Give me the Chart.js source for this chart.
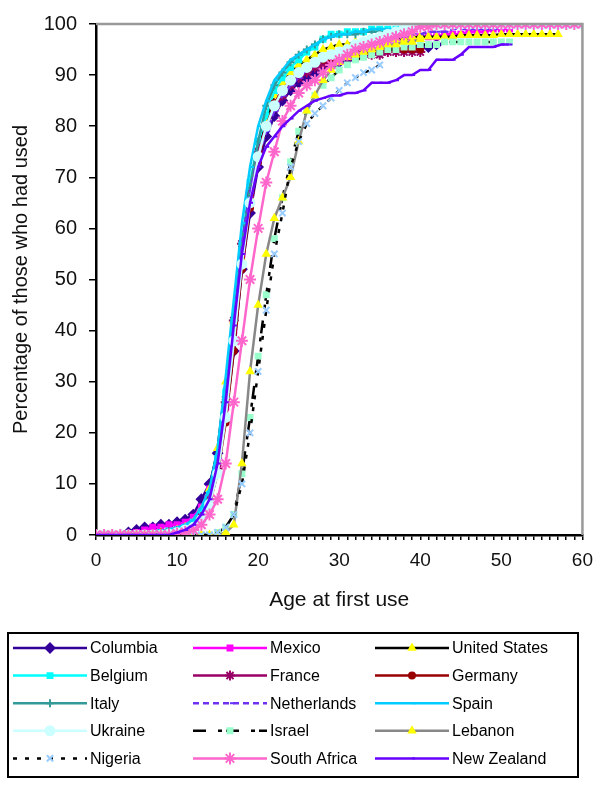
<!DOCTYPE html>
<html>
<head>
<meta charset="utf-8">
<script src="https://cdn.jsdelivr.net/npm/chart.js@4.4.0/dist/chart.umd.min.js"></script>
<style>
  html, body { margin: 0; padding: 0; background: #fff; }
  #wrap { width: 602px; height: 786px; }
</style>
</head>
<body>
<div id="wrap"><canvas id="chart" width="602" height="786"></canvas></div>
<script>
// age at first use (years)
const ages = [0,1,2,3,4,5,6,7,8,9,10,11,12,13,14,15,16,17,18,19,20,21,22,23,24,25,26,27,28,29,30,
  31,32,33,34,35,36,37,38,39,40,41,42,43,44,45,46,47,48,49,50,51,52,53,54,55,56,57,58,59,60];

// cumulative % of users, one value per age starting at 0
const columbia = [0,0,0,0,0.5,1,1.5,1.5,2,2,2.5,3,4,7,10,16,23,36,52,63,72,78,82,85,87,88.5,89.5,90.5,91.5,92,92.5,93,93.5,94,94.5,94.5,95,95,95,95.5,95.5,95.5,96];
const mexico = [0,0,0,0,0,0.5,1,1.5,1.5,2,2,2.5,3.5,5.5,9,14,25,40,55,66,74,80,84,87,89,90.5,91.5,92.5,93.5,94,94.5,95,95.5,96,96,96.5,96.5,97,97,97,97.5,97.5,97.5,98,98,98,98.5,98.5,98.5,99,99,99];
const unitedStates = [0,0,0,0,0,0,0,0,0.5,0.5,1,1.5,2.5,5,9,17,30,42,54,66,75,81,86,88.5,90.5,92,93,94,95,95.5,96,96,96.5,96.5,96.5,97,97,97,97,97.5,97.5,97.5,97.5,97.5,97.5,97.8,97.8,97.8,97.8,97.8,98,98,98,98,98,98,98,98];
const belgium = [0,0,0,0,0,0,0,0.2,0.5,0.8,1,1.5,2.5,4.5,8,15,28,42,57,69,77,82,87,89.5,91.5,93,94.5,95.5,97,98,98,98.5,98.5,98.5,99,99,99,99,99];
const france = [0,0,0,0,0,0,0,0,0.3,0.5,0.8,1,1.5,3.5,7,13,26,42,57,67,75,80,83.5,86,88,89.5,90.5,91.5,92,92.5,93,93.5,93.5,94,94,94,94.5,94.5,94.5,94.5,94.5];
const germany = [0,0,0,0,0,0,0,0,0,0.3,0.5,1,1.5,3,6,12,22,36,52,64,73,80,84.5,87,89,90.5,91.5,92.5,93,93.5,94,94,94.5,94.5,94.5,95,95,95,95,95,95];
const italy = [0,0,0,0,0,0,0,0,0.2,0.4,0.7,1,1.5,3,7,14,27,42,57,68,77,84,88,90.5,92.5,94,95,96,97,97.5,98,98,98,98.5,98.5,98.5];
const netherlands = [0,0,0,0.2,0.3,0.4,0.5,0.6,0.7,0.8,1,1.2,1.5,3,7,15,28,43,57,67,74,79,83,86,88,89.5,91,92,93,94,94.5,95,95.5,96,96.5,97,97,97.5,97.5,98,98,98.5,98.5,98.5,99,99,99,99,99,99,99.5,99.5,99.5,99.5,99.5,99.5,99.5,99.5,99.5,99.5,99.5];
const spain = [0,0,0,0,0,0.2,0.3,0.5,0.7,1,1.5,2,3,5.5,9,17,31,46,61,72,80,85,89,91,93,94,95,96,97,97.5,98,98,98.5,98.5,99,99,99];
const ukraine = [0,0,0,0,0,0,0,0,0,0.2,0.5,1,1.5,3,6,12,23,38,53,65,74,80,84,87,89,90.5,91.5,92.5,93.5,94,94.5,95,96,96.5,97,97.5,98,98.5,99,99.5,100,100,100,100,100,100,100,100,100,100,100,100,100,100,100,100,100,100,100,100,100];
const israel = [0,0,0,0,0,0,0,0,0,0,0,0,0,0,0,0.5,1.5,4,12,23,35,47,58,66,73,79,83,86,88,89.5,91,92,93,93.5,94,94.5,95,95,95.5,95.5,96,96,96,96.5,96.5,96.5,96.5,96.5,96.5,96.5,96.5,96.5];
const lebanon = [0,0,0,0,0,0,0,0,0,0,0,0,0,0,0,0,0.5,2,14,32,45,55,62,66,70,77,83,86,89,91,92.5,93.5,94,94.5,95,95.5,96,96,96.5,96.5,97];
const nigeria = [0,0,0,0,0,0,0,0,0,0,0,0,0,0,0,0.5,1.5,4,10,20,32,44,55,63,72,77,80.5,82.5,84,85.5,87,88.5,89.5,90.5,91,92];
const southAfrica = [0,0,0,0,0,0,0,0,0,0,0.3,0.6,1,2,4,7,14,26,38,50,60,69,75,81,84,86.5,88,89,90.5,92,93,94,95,95.5,96,96.5,97,97.5,98,98.5,99.5,99.5,100,100,100,100,100,100,100,100,100,100,100,100,100,100,100,100,100,100,100];
const newZealand = [0,0,0,0,0,0,0,0,0,0,0.5,1,2,4,7,14,26,41,55,65,72,76,78,80,81.5,83,84,85,85.5,86,86,86.5,86.5,87,88.5,88.5,88.5,89,90,90,91,91,93,93,93,94,95.5,95.5,95.5,95.5,96,96];

const seriesNames = ["Columbia","Mexico","United States","Belgium","France","Germany","Italy","Netherlands","Spain","Ukraine","Israel","Lebanon","Nigeria","South Africa","New Zealand"];
const seriesValues = [columbia, mexico, unitedStates, belgium, france, germany, italy, netherlands, spain, ukraine, israel, lebanon, nigeria, southAfrica, newZealand];

const styles = [
  { line: "#330099", point: "#330099", shape: "rectRot", r: 4.5 },
  { line: "#ff00ff", point: "#ff00ff", shape: "rect", r: 3.5 },
  { line: "#000000", point: "#ffff00", shape: "triangle", r: 3.5 },
  { line: "#00ffff", point: "#00ffff", shape: "rect", r: 3.5 },
  { line: "#990066", point: "#990066", shape: "star", r: 5 },
  { line: "#990000", point: "#990000", shape: "circle", r: 3 },
  { line: "#339999", point: "#339999", shape: "cross", r: 4 },
  { line: "#7030f0", point: "#6633ff", shape: "dash", r: 4, dash: [6, 4] },
  { line: "#00ccff", point: "#00ccff", shape: "dash", r: 4 },
  { line: "#ccffff", point: "#ccffff", shape: "circle", r: 4.5 },
  { line: "#000000", point: "#99ffcc", shape: "rect", r: 3.5, dash: [13, 12, 4, 4] },
  { line: "#888888", point: "#ffff00", shape: "triangle", r: 3.5 },
  { line: "#000000", point: "#99ccff", shape: "crossRot", r: 4.5, dash: [4, 8] },
  { line: "#ff66cc", point: "#ff66cc", shape: "star", r: 6 },
  { line: "#6600ff", point: "#6600ff", shape: "dash", r: 3 }
];

const datasets = seriesNames.map((name, i) => {
  const st = styles[i];
  return {
    label: name,
    data: seriesValues[i].map((v, k) => ({ x: ages[k], y: v })),
    borderColor: st.line,
    backgroundColor: st.point,
    pointBackgroundColor: st.point,
    pointBorderColor: st.point,
    pointStyle: st.shape,
    pointRadius: st.r,
    pointBorderWidth: 2,
    borderWidth: 2.5,
    borderDash: st.dash || [],
    tension: 0,
    order: seriesNames.length - i
  };
});

// grey frame on top and right of the plot
const frame = {
  id: "frame",
  afterDatasetsDraw(chart) {
    const { ctx, chartArea: a } = chart;
    ctx.save();
    ctx.strokeStyle = "#999999";
    ctx.lineWidth = 2.5;
    ctx.beginPath();
    ctx.moveTo(a.left, a.top);
    ctx.lineTo(a.right, a.top);
    ctx.lineTo(a.right, a.bottom);
    ctx.stroke();
    ctx.restore();
  }
};

// boxed legend, 3 columns x 5 rows
const boxLegend = {
  id: "boxLegend",
  afterDraw(chart) {
    const ctx = chart.ctx;
    const colX = [13, 193, 375];
    const rowY0 = 648, rowH = 27.6;
    ctx.save();
    ctx.strokeStyle = "#000";
    ctx.lineWidth = 2;
    ctx.strokeRect(8, 633, 570, 144);
    ctx.font = "16px 'Liberation Sans', Arial, sans-serif";
    ctx.textBaseline = "middle";
    ctx.fillStyle = "#000";
    chart.data.datasets.forEach((ds, i) => {
      const x = colX[i % 3];
      const y = rowY0 + Math.floor(i / 3) * rowH;
      ctx.save();
      ctx.strokeStyle = ds.borderColor;
      ctx.lineWidth = 2.5;
      ctx.setLineDash(ds.borderDash || []);
      ctx.beginPath();
      ctx.moveTo(x, y);
      ctx.lineTo(x + 74, y);
      ctx.stroke();
      ctx.setLineDash([]);
      ctx.fillStyle = ds.pointBackgroundColor;
      ctx.strokeStyle = ds.pointBorderColor;
      ctx.lineWidth = 2;
      Chart.helpers.drawPoint(ctx, { pointStyle: ds.pointStyle, radius: ds.pointRadius, rotation: 0, borderWidth: 2 }, x + 37, y);
      ctx.restore();
      ctx.fillText(ds.label, x + 77, y + 1);
    });
    ctx.restore();
  }
};

const fontFamily = "'Liberation Sans', Arial, sans-serif";

new Chart(document.getElementById("chart"), {
  type: "line",
  data: { datasets },
  options: {
    responsive: false,
    animation: false,
    layout: { padding: { top: 22, right: 19, left: 0, bottom: 171 } },
    plugins: { legend: { display: false }, tooltip: { enabled: false } },
    scales: {
      x: {
        type: "linear",
        min: 0,
        max: 60,
        afterFit: s => { s.height = 80; },
        border: { color: "#000", width: 2.5 },
        grid: { drawOnChartArea: false, drawTicks: true, tickLength: 5, color: "#000", lineWidth: 1.5 },
        ticks: {
          stepSize: 1,
          autoSkip: false,
          maxRotation: 0,
          padding: 9,
          color: "#111",
          font: { family: fontFamily, size: 19 },
          callback: v => (v % 10 === 0 ? v : "")
        },
        title: { display: true, text: "Age at first use", color: "#111", font: { family: fontFamily, size: 21 }, padding: { top: 0, bottom: 2 } }
      },
      y: {
        min: 0,
        max: 100,
        afterFit: s => { s.width = 96; },
        border: { color: "#000", width: 2.5 },
        grid: { drawOnChartArea: false, drawTicks: true, tickLength: 7, color: "#000", lineWidth: 1.5 },
        ticks: { stepSize: 10, padding: 12, color: "#111", font: { family: fontFamily, size: 20 } },
        title: { display: true, text: "Percentage of those who had used", color: "#111", font: { family: fontFamily, size: 20 }, padding: { top: 9, bottom: 0 } }
      }
    }
  },
  plugins: [frame, boxLegend]
});
</script>
</body>
</html>
